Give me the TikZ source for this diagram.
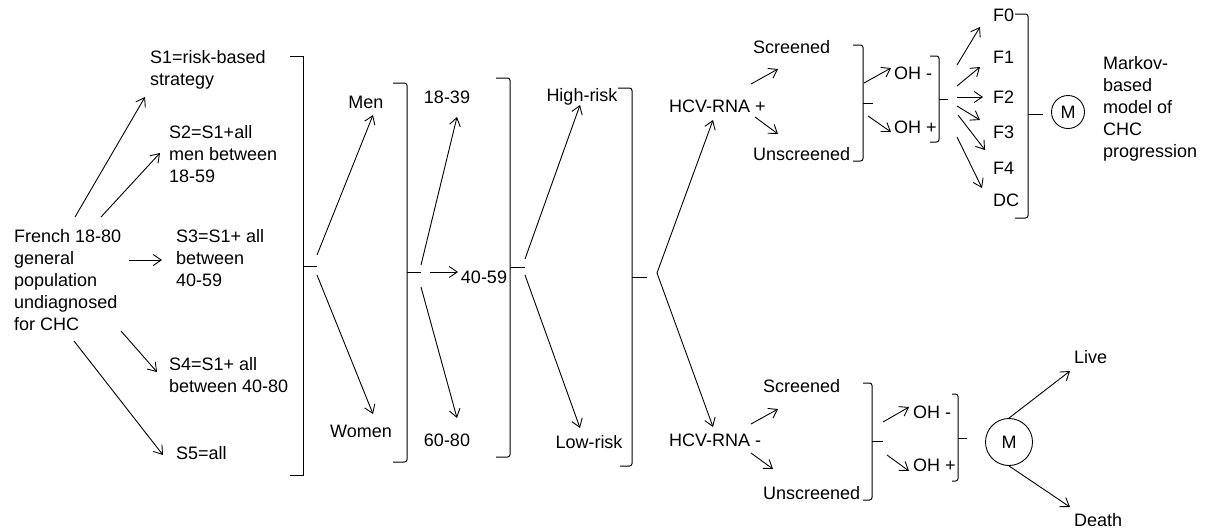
\documentclass[tikz,border=0pt]{standalone}
\usepackage{fontspec}
\setmainfont{Liberation Sans}
\usetikzlibrary{arrows.meta}
\begin{document}
\begin{tikzpicture}[x=1pt,y=-1pt,
  txt/.style={font=\fontsize{18pt}{22pt}\selectfont, inner sep=0pt, align=left, anchor=base west},
  ctxt/.style={font=\fontsize{18pt}{22pt}\selectfont, inner sep=0pt, anchor=base},
  arr/.style={-{Straight Barb[length=8pt,width=11pt]}, line width=0.9pt},
  brk/.style={line width=1pt, rounded corners=2.5pt},
  sbrk/.style={line width=1pt},
  mcirc/.style={draw, circle, line width=0.9pt, inner sep=0pt, font=\fontsize{18pt}{22pt}\selectfont}]
\useasboundingbox (0,0) rectangle (1205,531);
% ---------- texts (base = baseline of last line) ----------
\node[txt] (fr) at (14,330) {French 18-80\\general\\population\\undiagnosed\\for CHC};
\node[txt] (s1) at (150,85) {S1=risk-based\\strategy};
\node[txt] (s2) at (169,182) {S2=S1+all\\men between\\18-59};
\node[txt] (s3) at (176,286) {S3=S1+ all\\between\\40-59};
\node[txt] (s4) at (169,392) {S4=S1+ all\\between 40-80};
\node[txt] (s5) at (176,459) {S5=all};
\node[ctxt] (men) at (366,108) {Men};
\node[ctxt] (women) at (361,437) {Women};
\node[ctxt] (a1) at (447,103) {18-39};
\node[ctxt] (a2) at (484,283) {40-59};
\node[ctxt] (a3) at (447,446) {60-80};
\node[ctxt] (hr) at (582,101) {High-risk};
\node[ctxt] (lr) at (589,448) {Low-risk};
\node[txt] (hp) at (669,112) {HCV-RNA +};
\node[txt] (hm) at (669,446) {HCV-RNA -};
\node[txt] (sc1) at (753,53) {Screened};
\node[txt] (un1) at (753,160) {Unscreened};
\node[txt] (om1) at (894,79) {OH -};
\node[txt] (op1) at (894,133) {OH +};
\node[txt] (f0) at (993,21) {F0};
\node[txt] (f1) at (993,63) {F1};
\node[txt] (f2) at (993,103) {F2};
\node[txt] (f3) at (993,138) {F3};
\node[txt] (f4) at (993,174) {F4};
\node[txt] (dc) at (993,206) {DC};
\node[mcirc, minimum size=33pt] (m1) at (1068,112) {M};
\node[txt] (mk) at (1103,157) {Markov-\\based\\model of\\CHC\\progression};
\node[txt] (sc2) at (763,392) {Screened};
\node[txt] (un2) at (763,499) {Unscreened};
\node[txt] (om2) at (913,418) {OH -};
\node[txt] (op2) at (913,471) {OH +};
\node[mcirc, minimum size=47pt] (m2) at (1009,442) {M};
\node[txt] (lv) at (1074,363) {Live};
\node[txt] (dt) at (1074,526) {Death};
% ---------- brackets ----------
\draw[sbrk] (290,56) -- (303,56) -- (303,475) -- (290,475);
\draw[sbrk] (303,266) -- (317,266);
\draw[brk] (393,83) -- (407,83) -- (407,462) -- (393,462);
\draw[sbrk] (407,272) -- (421,272);
\draw[brk] (496,78) -- (510,78) -- (510,457) -- (496,457);
\draw[sbrk] (510,267) -- (525,267);
\draw[brk] (618,88) -- (632,88) -- (632,466) -- (620,466);
\draw[sbrk] (632,277) -- (647,277);
\draw[brk] (853,45) -- (863,45) -- (863,161) -- (853,161);
\draw[sbrk] (863,103) -- (873,103);
\draw[brk] (930,56) -- (939,56) -- (939,142) -- (930,142);
\draw[sbrk] (939,99) -- (948,99);
\draw[brk] (1015,14) -- (1028,14) -- (1028,218) -- (1015,218);
\draw[sbrk] (1028,114) -- (1043,114);
\draw[brk] (863,383) -- (872,383) -- (872,500) -- (863,500);
\draw[sbrk] (872,441) -- (883,441);
\draw[brk] (952,394) -- (958,394) -- (958,481) -- (952,481);
\draw[sbrk] (958,438) -- (967,438);
% ---------- connector end points ----------
\coordinate (fr1) at (75,217);  \coordinate (s1e) at (145,97);
\coordinate (fr2) at (101,217); \coordinate (s2e) at (160,153);
\coordinate (fr3) at (129,260); \coordinate (s3e) at (162,260);
\coordinate (fr4) at (121,331); \coordinate (s4e) at (157,372);
\coordinate (fr5) at (74,341);  \coordinate (s5e) at (163,455);
\coordinate (b1u) at (317,255); \coordinate (mene) at (373,115);
\coordinate (b1d) at (317,275); \coordinate (wome) at (373,414);
\coordinate (b2u) at (421,265); \coordinate (a1e) at (457,117);
\coordinate (b2m) at (430,272); \coordinate (a2e) at (458,272);
\coordinate (b2d) at (421,287); \coordinate (a3e) at (457,418);
\coordinate (b3u) at (525,259); \coordinate (hre) at (580,105);
\coordinate (b3d) at (525,275); \coordinate (lre) at (580,428);
\coordinate (b4v) at (657,273); \coordinate (hpe) at (713,120); \coordinate (hme) at (713,427);
\coordinate (hp1) at (751,84);  \coordinate (sc1e) at (778,69);
\coordinate (hp2) at (755,117); \coordinate (un1e) at (778,134);
\coordinate (b5u) at (864,83);  \coordinate (om1e) at (891,68);
\coordinate (b5d) at (868,116); \coordinate (op1e) at (891,132);
\coordinate (b6a) at (957,65);  \coordinate (f0e) at (980,27);
\coordinate (b6b) at (957,86);  \coordinate (f1e) at (980,67);
\coordinate (b6c) at (957,97);  \coordinate (f2e) at (983,97);
\coordinate (b6d) at (957,106); \coordinate (f3e) at (980,120);
\coordinate (b6e) at (958,115); \coordinate (f4e) at (985,150);
\coordinate (b6f) at (957,137); \coordinate (dce) at (982,188);
\coordinate (hm1) at (751,424); \coordinate (sc2e) at (778,409);
\coordinate (hm2) at (751,453); \coordinate (un2e) at (773,469);
\coordinate (b8u) at (883,422); \coordinate (om2e) at (909,407);
\coordinate (b8d) at (887,455); \coordinate (op2e) at (909,471);
\coordinate (lve) at (1070,371);
\coordinate (dte) at (1070,507);
% ---------- arrows ----------
\draw[arr] (fr1) -- (s1e);
\draw[arr] (fr2) -- (s2e);
\draw[arr] (fr3) -- (s3e);
\draw[arr] (fr4) -- (s4e);
\draw[arr] (fr5) -- (s5e);
\draw[arr] (b1u) -- (mene);
\draw[arr] (b1d) -- (wome);
\draw[arr] (b2u) -- (a1e);
\draw[arr] (b2m) -- (a2e);
\draw[arr] (b2d) -- (a3e);
\draw[arr] (b3u) -- (hre);
\draw[arr] (b3d) -- (lre);
\draw[arr] (b4v) -- (hpe);
\draw[arr] (b4v) -- (hme);
\draw[arr] (hp1) -- (sc1e);
\draw[arr] (hp2) -- (un1e);
\draw[arr] (b5u) -- (om1e);
\draw[arr] (b5d) -- (op1e);
\draw[arr] (b6a) -- (f0e);
\draw[arr] (b6b) -- (f1e);
\draw[arr] (b6c) -- (f2e);
\draw[arr] (b6d) -- (f3e);
\draw[arr] (b6e) -- (f4e);
\draw[arr] (b6f) -- (dce);
\draw[arr] (hm1) -- (sc2e);
\draw[arr] (hm2) -- (un2e);
\draw[arr] (b8u) -- (om2e);
\draw[arr] (b8d) -- (op2e);
\draw[arr] (m2.north) -- (lve);
\draw[arr] (m2.south) -- (dte);
\end{tikzpicture}
\end{document}
